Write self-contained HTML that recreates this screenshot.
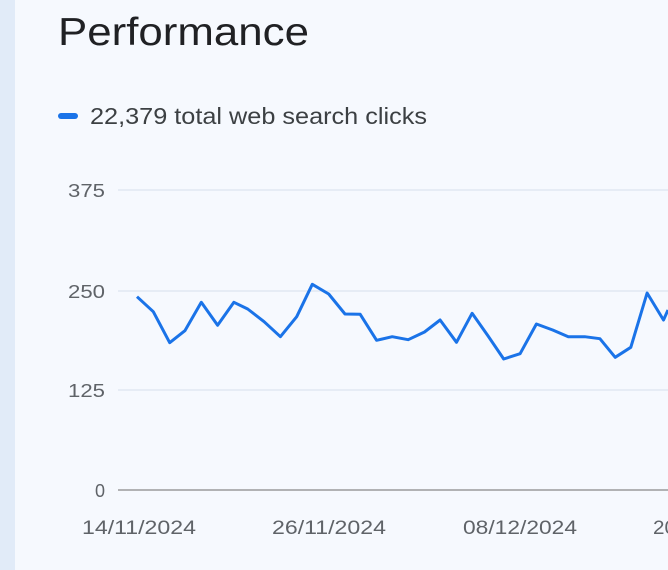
<!DOCTYPE html>
<html><head><style>
body{margin:0;width:668px;height:570px;overflow:hidden;background:#f6f9fe;font-family:"Liberation Sans",Arial,sans-serif;position:relative}
.strip{position:absolute;left:0;top:0;width:15px;height:570px;background:#e1ebf8}
</style></head><body>
<div class="strip"></div>
<svg width="668" height="570" style="position:absolute;left:0;top:0">
<text x="58" y="45" font-size="39" fill="#202124" textLength="251" lengthAdjust="spacingAndGlyphs">Performance</text>
<rect x="58" y="113" width="20" height="6" rx="3" fill="#1a73e8"/>
<text x="90" y="124" font-size="23" fill="#3c4043" textLength="337" lengthAdjust="spacingAndGlyphs">22,379 total web search clicks</text>
<g stroke="#dde4f0" stroke-width="1.3">
<line x1="118" y1="190" x2="668" y2="190"/>
<line x1="118" y1="291" x2="668" y2="291"/>
<line x1="118" y1="390" x2="668" y2="390"/>
</g>
<line x1="118" y1="490" x2="668" y2="490" stroke="#888" stroke-width="1.3"/>
<g font-size="18" fill="#5f6368" text-anchor="end">
<text x="105" y="197" textLength="37" lengthAdjust="spacingAndGlyphs">375</text>
<text x="105" y="298" textLength="37" lengthAdjust="spacingAndGlyphs">250</text>
<text x="105" y="397" textLength="37" lengthAdjust="spacingAndGlyphs">125</text>
<text x="105" y="497">0</text>
</g>
<g font-size="19" fill="#5f6368">
<text x="82" y="534" textLength="114" lengthAdjust="spacingAndGlyphs">14/11/2024</text>
<text x="272" y="534" textLength="114" lengthAdjust="spacingAndGlyphs">26/11/2024</text>
<text x="463" y="534" textLength="114" lengthAdjust="spacingAndGlyphs">08/12/2024</text>
<text x="653" y="534" textLength="23" lengthAdjust="spacingAndGlyphs">20</text>
</g>
<polyline fill="none" stroke="#1a73e8" stroke-width="3" stroke-linejoin="round" points="137,296.7 153.3,311.7 169.7,342.7 184.9,330.7 201.3,302.3 217.6,325.3 233.9,302.3 247.7,309 264.1,321.7 280.4,336.7 296.7,316.7 312.3,284.3 328.7,294 345,314 360.2,314.3 376.6,340.3 392.2,336.7 408.2,339.7 424.5,332 440.1,320 456.5,342.3 472.1,313.3 488.1,336 503.7,359 520.1,353.7 536.4,324 552.7,330 568.3,336.7 584.7,336.7 599.9,338.7 615.2,357.3 630.8,347.3 647.1,293 663.5,320 668,310"/>
</svg>
</body></html>
